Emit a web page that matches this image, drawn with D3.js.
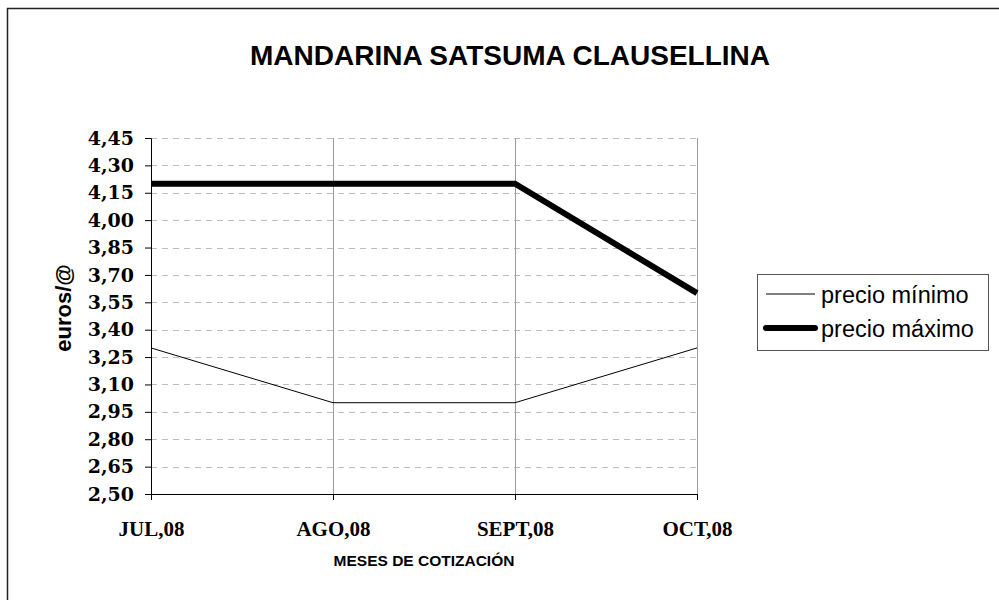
<!DOCTYPE html>
<html>
<head>
<meta charset="utf-8">
<script src="https://cdn.jsdelivr.net/npm/d3@7"></script>
<style>
  body { margin: 0; background: #fff; }
  svg { display: block; }
</style>
</head>
<body>
<div id="grafica"></div>
<script>
// datos
const meses = ["JUL,08", "AGO,08", "SEPT,08", "OCT,08"];
const precioMinimo = [3.30, 3.00, 3.00, 3.30];
const precioMaximo = [4.20, 4.20, 4.20, 3.60];
const ticksY = [2.50, 2.65, 2.80, 2.95, 3.10, 3.25, 3.40, 3.55, 3.70, 3.85, 4.00, 4.15, 4.30, 4.45];

const W = 999, H = 600;
const margin = { top: 138, right: 302, bottom: 106, left: 151 };
const width = W - margin.left - margin.right;
const height = H - margin.top - margin.bottom;

const svg = d3.select("#grafica")
  .append("svg")
  .attr("width", W)
  .attr("height", H);

// marco exterior
svg.append("rect")
  .attr("x", 7.5).attr("y", 8.5)
  .attr("width", 1000).attr("height", 600)
  .attr("fill", "none")
  .attr("stroke", "#222")
  .attr("stroke-width", 1.5);

svg.append("text")
  .attr("x", 510)
  .attr("y", 65)
  .attr("text-anchor", "middle")
  .attr("font-family", "Liberation Sans, Arial, sans-serif")
  .attr("font-weight", "bold")
  .attr("font-size", "28px")
  .text("MANDARINA SATSUMA CLAUSELLINA");

const g = svg.append("g")
  .attr("transform", "translate(" + margin.left + "," + margin.top + ")");

const x = d3.scalePoint().domain(meses).range([0, width]);
const y = d3.scaleLinear().domain([2.50, 4.45]).range([height, 0]);

// rejilla horizontal
g.selectAll("line.gy")
  .data(ticksY.slice(1))
  .enter()
  .append("line")
  .attr("class", "gy")
  .attr("x1", 0).attr("x2", width)
  .attr("y1", (d) => Math.round(y(d)) + 0.5)
  .attr("y2", (d) => Math.round(y(d)) + 0.5)
  .attr("stroke", "#bdbdbd")
  .attr("stroke-dasharray", "6,5");

// rejilla vertical
g.selectAll("line.gx")
  .data(meses.slice(1))
  .enter()
  .append("line")
  .attr("class", "gx")
  .attr("x1", (d) => Math.round(x(d)) + 0.5)
  .attr("x2", (d) => Math.round(x(d)) + 0.5)
  .attr("y1", 0).attr("y2", height)
  .attr("stroke", "#9a9a9a");

// eje y
const ejeY = g.append("g")
  .call(d3.axisLeft(y).tickValues(ticksY).tickSize(6).tickPadding(11)
    .tickFormat((d) => d3.format(".2f")(d).replace(".", ",")));
ejeY.select(".domain").attr("stroke", "#000");
ejeY.selectAll("text")
  .attr("font-family", "DejaVu Serif, serif")
  .attr("font-weight", "bold")
  .attr("font-size", "19px")
  .attr("fill", "#000");

// eje x
const ejeX = g.append("g")
  .attr("transform", "translate(0," + height + ")")
  .call(d3.axisBottom(x).tickSize(6).tickSizeOuter(0));
ejeX.selectAll("text")
  .attr("y", 42)
  .attr("dy", 0)
  .attr("font-family", "Liberation Serif, Times New Roman, serif")
  .attr("font-weight", "bold")
  .attr("font-size", "21px")
  .attr("fill", "#000");

// lineas
const linea = d3.line()
  .x((d, i) => x(meses[i]))
  .y((d) => y(d));

g.append("path")
  .datum(precioMinimo)
  .attr("d", linea)
  .attr("fill", "none")
  .attr("stroke", "#000")
  .attr("stroke-width", 1);

g.append("path")
  .datum(precioMaximo)
  .attr("d", linea)
  .attr("fill", "none")
  .attr("stroke", "#000")
  .attr("stroke-width", 6);

// titulos de ejes
svg.append("text")
  .attr("transform", "translate(71,308) rotate(-90)")
  .attr("text-anchor", "middle")
  .attr("font-family", "Liberation Sans, Arial, sans-serif")
  .attr("font-weight", "bold")
  .attr("font-size", "22px")
  .text("euros/@");

svg.append("text")
  .attr("x", margin.left + width / 2)
  .attr("y", 566)
  .attr("text-anchor", "middle")
  .attr("font-family", "Liberation Sans, Arial, sans-serif")
  .attr("font-weight", "bold")
  .attr("font-size", "15.5px")
  .text("MESES DE COTIZACIÓN");

// leyenda
const leyenda = svg.append("g").attr("transform", "translate(757,274)");
leyenda.append("rect")
  .attr("x", 0.5).attr("y", 0.5)
  .attr("width", 231).attr("height", 76)
  .attr("fill", "#fff")
  .attr("stroke", "#555");

const series = [
  { nombre: "precio mínimo", grosor: 1 },
  { nombre: "precio máximo", grosor: 6 },
];
series.forEach((s, i) => {
  const yy = 20 + i * 34;
  leyenda.append("line")
    .attr("x1", 9).attr("x2", 58)
    .attr("y1", yy).attr("y2", yy)
    .attr("stroke", "#000")
    .attr("stroke-width", s.grosor)
    .attr("stroke-linecap", i === 1 ? "round" : "butt");
  leyenda.append("text")
    .attr("x", 64)
    .attr("y", yy + 9)
    .attr("font-family", "Liberation Sans, Arial, sans-serif")
    .attr("font-size", "23.5px")
    .text(s.nombre);
});
</script>
</body>
</html>
